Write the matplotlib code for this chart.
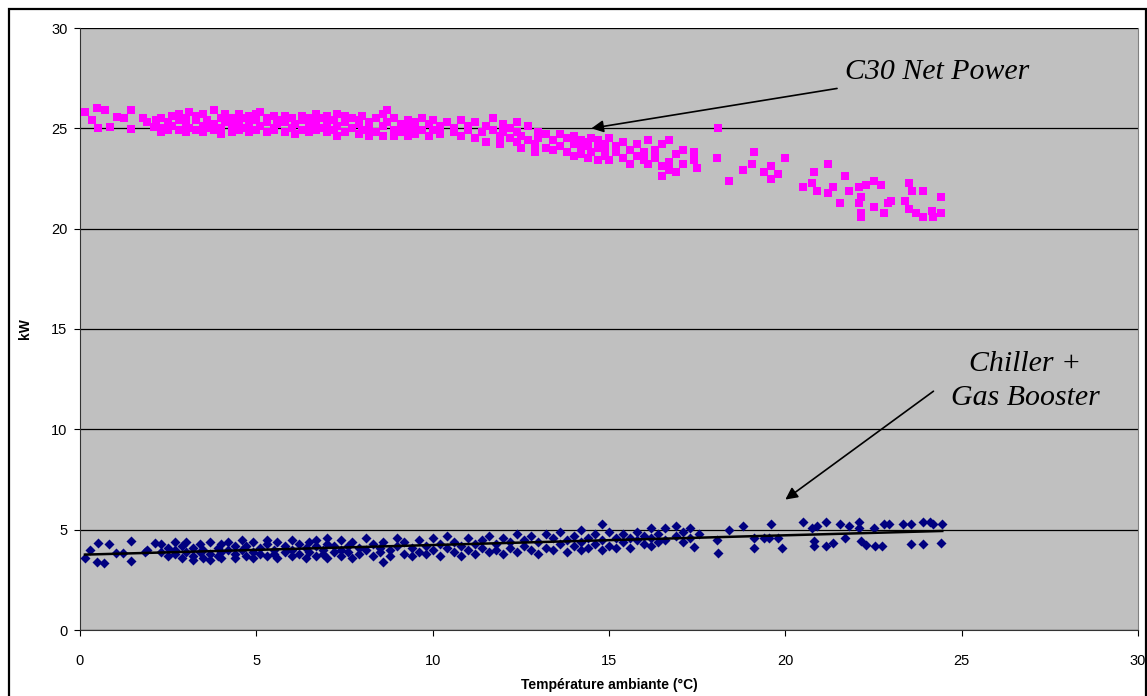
import numpy as np
import matplotlib.pyplot as plt
from matplotlib.patches import Rectangle

# C30 net power (kW) vs ambient temperature (C)
c30_temp = [0.15, 0.35, 0.47, 0.52, 0.7, 0.85, 1.05, 1.25, 1.45, 1.45, 1.8, 1.9, 2.1, 2.15,
            2.3, 2.3, 2.3, 2.5, 2.5, 2.6, 2.6, 2.8, 2.8, 2.8, 3.0, 3.0, 3.0, 3.1, 3.1,
            3.3, 3.3, 3.3, 3.5, 3.5, 3.5, 3.6, 3.6, 3.8, 3.8, 3.8, 4.0, 4.0, 4.0, 4.1, 4.1,
            4.3, 4.3, 4.3, 4.5, 4.5, 4.5, 4.7, 4.7, 4.8, 4.8, 4.8, 5.0, 5.0, 5.0, 5.1, 5.1,
            5.3, 5.3, 5.3, 5.5, 5.5, 5.5, 5.6, 5.6, 5.8, 5.8, 5.8, 6.0, 6.0, 6.1, 6.1,
            6.3, 6.3, 6.3, 6.5, 6.5, 6.5, 6.7, 6.7, 6.7, 6.8, 6.8, 7.0, 7.0, 7.0, 7.2, 7.2,
            7.3, 7.3, 7.3, 7.5, 7.5, 7.5, 7.7, 7.7, 7.9, 7.9, 7.9, 8.0, 8.0, 8.2, 8.2, 8.2,
            8.4, 8.4, 8.6, 8.6, 8.6, 8.7, 8.7, 8.9, 8.9, 8.9, 9.1, 9.1, 9.3, 9.3, 9.3,
            9.5, 9.5, 9.5, 9.7, 9.7, 9.9, 9.9, 10.0, 10.0,
            10.2, 10.2, 10.4, 10.6, 10.6, 10.8, 10.8, 11.0, 11.0, 11.2, 11.2, 11.4, 11.5, 11.5,
            11.7, 11.7, 11.9, 11.9, 12.0, 12.0, 12.2, 12.2, 12.4, 12.4, 12.4, 12.5, 12.5,
            12.7, 12.7, 12.9, 12.9, 13.0, 13.0, 13.2, 13.2, 13.4, 13.4, 13.6, 13.6, 13.8, 13.8,
            14.0, 14.0, 14.0, 14.2, 14.2, 14.2, 14.4, 14.4, 14.4, 14.5, 14.5, 14.7, 14.7, 14.7,
            14.9, 14.9, 14.9, 15.0, 15.0, 15.2, 15.2, 15.4, 15.4, 15.6, 15.6, 15.8, 15.8,
            16.0, 16.0, 16.1, 16.1, 16.3, 16.3, 16.5, 16.5, 16.5, 16.7, 16.7, 16.7, 16.9, 16.9,
            17.1, 17.1, 17.4, 17.4, 17.5,
            18.1, 18.05, 18.4, 18.8, 19.1, 19.05, 19.4, 19.6, 19.6, 19.8, 20.0, 20.5, 20.8,
            20.75, 20.9, 21.2, 21.2, 21.35, 21.55, 21.7, 21.8, 22.1, 22.15, 22.1, 22.15, 22.15,
            22.3, 22.5, 22.5, 22.7, 22.8, 22.9, 23.0, 23.5, 23.6, 23.9, 23.4, 23.5, 23.7, 23.9,
            24.15, 24.2, 24.4, 24.4]
c30_kw = [25.8, 25.4, 26.0, 25.0, 25.9, 25.05, 25.55, 25.5, 25.9, 24.95, 25.5, 25.3, 25.05, 25.4,
          25.5, 25.0, 24.8, 25.3, 24.9, 25.6, 25.1, 25.4, 24.9, 25.7, 25.2, 24.8, 25.5, 25.8, 25.0,
          25.4, 24.9, 25.6, 25.1, 25.7, 24.8, 25.4, 25.0, 25.9, 25.2, 24.9, 25.5, 25.0, 24.7, 25.7, 25.3,
          25.1, 24.8, 25.5, 25.3, 24.9, 25.7, 25.0, 25.5, 25.2, 24.8, 25.6, 25.4, 24.9, 25.7, 25.1, 25.8,
          25.3, 24.8, 25.5, 25.0, 25.6, 24.9, 25.2, 25.4, 24.8, 25.3, 25.6, 25.0, 25.5, 24.7, 25.2,
          25.4, 24.9, 25.6, 25.1, 24.8, 25.5, 25.3, 25.7, 24.9, 25.0, 25.5, 24.8, 25.2, 25.6, 25.4, 24.9,
          25.1, 25.7, 24.6, 25.3, 24.8, 25.6, 25.0, 25.5, 24.7, 25.2, 25.4, 24.9, 25.6, 25.3, 24.6, 25.0,
          25.5, 24.8, 25.1, 25.7, 24.6, 25.9, 25.3, 24.9, 25.5, 24.6, 25.2, 24.8, 25.4, 25.0, 24.6,
          25.1, 24.7, 25.3, 25.5, 24.9, 24.6, 25.2, 25.4, 24.9,
          25.1, 24.7, 25.3, 24.8, 25.0, 25.4, 24.6, 25.1, 24.9, 25.3, 24.5, 24.8, 25.1, 24.3,
          24.9, 25.5, 24.6, 24.2, 25.2, 24.8, 24.5, 25.0, 24.3, 25.3, 24.8, 24.0, 24.6,
          25.1, 24.4, 24.2, 23.8, 24.8, 24.5, 24.0, 24.7, 24.4, 23.9, 24.7, 24.1, 23.8, 24.5,
          24.2, 23.6, 24.6, 24.0, 23.7, 24.4, 23.5, 24.1, 24.3, 23.8, 24.5, 23.4, 24.0, 24.4,
          23.6, 24.2, 23.9, 24.5, 23.4, 23.8, 24.1, 23.5, 24.3, 23.2, 23.9, 24.2, 23.6,
          23.4, 23.8, 24.4, 23.2, 23.5, 23.9, 22.6, 23.1, 24.2, 24.4, 23.3, 22.9, 23.7, 22.8,
          23.2, 23.9, 23.8, 23.4, 23.0,
          25.0, 23.5, 22.4, 22.9, 23.8, 23.2, 22.8, 23.1, 22.5, 22.7, 23.5, 22.1, 22.8,
          22.3, 21.9, 23.2, 21.8, 22.1, 21.3, 22.6, 21.9, 22.1, 21.6, 21.3, 20.8, 20.6,
          22.2, 22.4, 21.1, 22.2, 20.8, 21.3, 21.4, 22.3, 21.9, 21.9, 21.4, 21.0, 20.8, 20.6,
          20.9, 20.6, 20.8, 21.6]

# Chiller + gas booster (kW) vs ambient temperature (C)
chiller_temp = [0.14, 0.28, 0.48, 0.51, 0.68, 0.82, 1.02, 1.22, 1.44, 1.44, 1.84, 1.9, 2.13,
                2.3, 2.3, 2.5, 2.5, 2.7, 2.7, 2.7, 2.9, 2.9, 3.0, 3.0, 3.2, 3.2, 3.2, 3.4, 3.4,
                3.5, 3.5, 3.7, 3.7, 3.7, 3.9, 3.9, 4.0, 4.0, 4.0, 4.2, 4.2, 4.4, 4.4, 4.4,
                4.6, 4.6, 4.7, 4.7, 4.9, 4.9, 4.9, 5.1, 5.1, 5.3, 5.3, 5.3, 5.5, 5.5, 5.6, 5.6,
                5.8, 5.8, 6.0, 6.0, 6.0, 6.2, 6.2, 6.4, 6.4, 6.5, 6.5, 6.7, 6.7, 6.7, 6.9, 6.9,
                7.0, 7.0, 7.0, 7.2, 7.2, 7.4, 7.4, 7.4, 7.6, 7.6, 7.7, 7.7, 7.9, 7.9, 8.1, 8.1,
                8.3, 8.3, 8.5, 8.5, 8.6, 8.6, 8.8, 8.8, 9.0, 9.0, 9.2, 9.2, 9.4, 9.4, 9.6, 9.6,
                9.8, 9.8, 10.0, 10.0, 10.2, 10.2, 10.4, 10.4, 10.6, 10.6, 10.8, 10.8, 11.0, 11.0,
                11.2, 11.2, 11.4, 11.4, 11.6, 11.6, 11.8, 11.8, 12.0, 12.0, 12.2, 12.2, 12.4, 12.4,
                12.6, 12.6, 12.8, 12.8, 13.0, 13.0, 13.2, 13.2, 13.4, 13.4, 13.6, 13.6, 13.8, 13.8,
                14.0, 14.0, 14.2, 14.2, 14.2, 14.4, 14.4, 14.6, 14.6, 14.8, 14.8, 14.8, 15.0, 15.0,
                15.2, 15.2, 15.4, 15.4, 15.6, 15.6, 15.8, 15.8, 16.0, 16.0, 16.2, 16.2, 16.2,
                16.4, 16.4, 16.6, 16.6, 16.9, 16.9, 17.1, 17.1, 17.3, 17.3, 17.4, 17.55,
                18.05, 18.1, 18.4, 18.8, 19.1, 19.1, 19.4, 19.6, 19.55, 19.8, 19.9, 20.5, 20.75,
                20.8, 20.8, 20.9, 21.15, 21.15, 21.35, 21.55, 21.7, 21.8, 22.1, 22.1, 22.15, 22.3,
                22.5, 22.55, 22.75, 22.8, 22.95, 23.35, 23.55, 23.9, 24.1, 24.2, 24.45, 23.55, 23.9,
                24.4]
chiller_kw = [3.6, 4.0, 3.4, 4.35, 3.35, 4.3, 3.85, 3.85, 4.45, 3.45, 3.9, 4.0, 4.35,
              4.3, 3.9, 4.1, 3.7, 4.4, 3.8, 4.0, 3.6, 4.2, 3.9, 4.4, 3.7, 4.1, 3.5, 4.3, 3.9,
              3.6, 4.0, 4.4, 3.8, 3.5, 4.1, 3.7, 4.3, 3.9, 3.6, 4.0, 4.4, 3.8, 4.2, 3.6,
              4.0, 4.5, 3.7, 4.2, 3.9, 4.4, 3.6, 4.1, 3.8, 4.3, 3.7, 4.5, 4.0, 3.8, 4.4, 3.6,
              3.9, 4.2, 4.5, 3.7, 4.0, 3.8, 4.3, 4.1, 3.6, 4.4, 3.9, 3.7, 4.2, 4.5, 4.0, 3.8,
              4.3, 4.6, 3.6, 3.9, 4.2, 4.5, 3.7, 4.0, 4.2, 3.9, 4.4, 3.6, 4.1, 3.8, 4.6, 4.0,
              3.7, 4.3, 4.1, 3.9, 3.4, 4.4, 4.0, 3.7, 4.6, 4.2, 3.8, 4.4, 4.1, 3.7, 4.5, 3.9,
              4.2, 3.8, 4.6, 4.0, 3.7, 4.3, 4.1, 4.7, 3.9, 4.4, 4.2, 3.7, 4.6, 4.0,
              3.8, 4.3, 4.5, 4.1, 3.9, 4.7, 4.3, 4.0, 4.6, 3.8, 4.1, 4.4, 3.9, 4.8,
              4.2, 4.5, 4.0, 4.7, 4.4, 3.8, 4.1, 4.8, 4.6, 4.0, 4.3, 4.9, 3.9, 4.5,
              4.7, 4.2, 4.4, 4.0, 5.0, 4.6, 4.1, 4.3, 4.8, 5.3, 4.5, 4.0, 4.9, 4.2,
              4.6, 4.1, 4.4, 4.8, 4.1, 4.6, 4.5, 4.9, 4.3, 4.7, 5.1, 4.6, 4.2,
              4.8, 4.4, 5.1, 4.5, 5.2, 4.7, 4.4, 4.9, 5.1, 4.6, 4.15, 4.8,
              4.5, 3.85, 5.0, 5.2, 4.1, 4.6, 4.6, 5.3, 4.6, 4.6, 4.1, 5.4, 5.1,
              4.45, 4.2, 5.2, 5.4, 4.2, 4.35, 5.3, 4.6, 5.2, 5.4, 5.1, 4.45, 4.25,
              5.1, 4.2, 4.2, 5.3, 5.3, 5.3, 5.3, 5.4, 5.4, 5.3, 5.3, 4.3, 4.3,
              4.35]

fig = plt.figure(figsize=(11.47, 6.96), dpi=100)
ax = fig.add_axes([80 / 1147, 66 / 696, 1058 / 1147, 602 / 696])
ax.set_facecolor('#C0C0C0')

# outer chart frame
fig.patches.append(Rectangle((9 / 1147, -0.1), 1137 / 1147, 1.1 - 9.5 / 696,
                             transform=fig.transFigure, fill=False,
                             edgecolor='black', linewidth=1.6, clip_on=False))

ax.scatter(c30_temp, c30_kw, marker='s', s=36, color='#FF00FF', linewidths=0, zorder=3)
ax.scatter(chiller_temp, chiller_kw, marker='D', s=26, color='#000080', linewidths=0, zorder=3)

# linear trend line for the chiller series
coef = np.polyfit(chiller_temp, chiller_kw, 1)
xt = np.array([min(chiller_temp), max(chiller_temp)])
ax.plot(xt, np.polyval(coef, xt), color='black', linewidth=1.8, zorder=4)

ax.set_xlim(0, 30)
ax.set_ylim(0, 30)
ax.set_xticks(range(0, 31, 5))
ax.set_yticks(range(0, 31, 5))
ax.yaxis.grid(True, color='black', linewidth=0.9)
ax.set_axisbelow(True)
for side in ['left', 'bottom']:
    ax.spines[side].set_color('#333333')
ax.spines['top'].set_visible(False)
ax.spines['right'].set_color('#808080')
ax.spines['right'].set_linewidth(0.8)
ax.tick_params(direction='out', length=4, labelsize=10.5, colors='black')
ax.tick_params(axis='x', pad=13)
ax.tick_params(axis='y', pad=5)
for lab in ax.get_xticklabels() + ax.get_yticklabels():
    lab.set_family('Liberation Sans')

ax.set_xlabel('Température ambiante (°C)', fontsize=10, fontweight='bold',
              family='Liberation Sans')
ax.set_ylabel('kW', fontsize=10, fontweight='bold', family='Liberation Sans')
ax.xaxis.set_label_coords(0.5, -48 / 602)
ax.yaxis.set_label_coords(-48 / 1058, 0.5)

# annotations
ax.annotate('C30 Net Power', xy=(14.5, 25.0), xytext=(21.7, 27.8),
            fontsize=21.5, fontstyle='italic', family='Liberation Serif',
            va='center', ha='left',
            arrowprops=dict(arrowstyle='-|>', color='black', lw=1.2,
                            mutation_scale=18, shrinkA=4, shrinkB=0))
ax.annotate('', xy=(20.0, 6.5), xytext=(24.2, 11.9),
            arrowprops=dict(arrowstyle='-|>', color='black', lw=1.2,
                            mutation_scale=18, shrinkA=0, shrinkB=0))
ax.text(26.8, 12.4, 'Chiller +\nGas Booster', fontsize=21.5, fontstyle='italic',
        family='Liberation Serif', ha='center', va='center', linespacing=1.4)

fig.savefig('out.png', dpi=100)
